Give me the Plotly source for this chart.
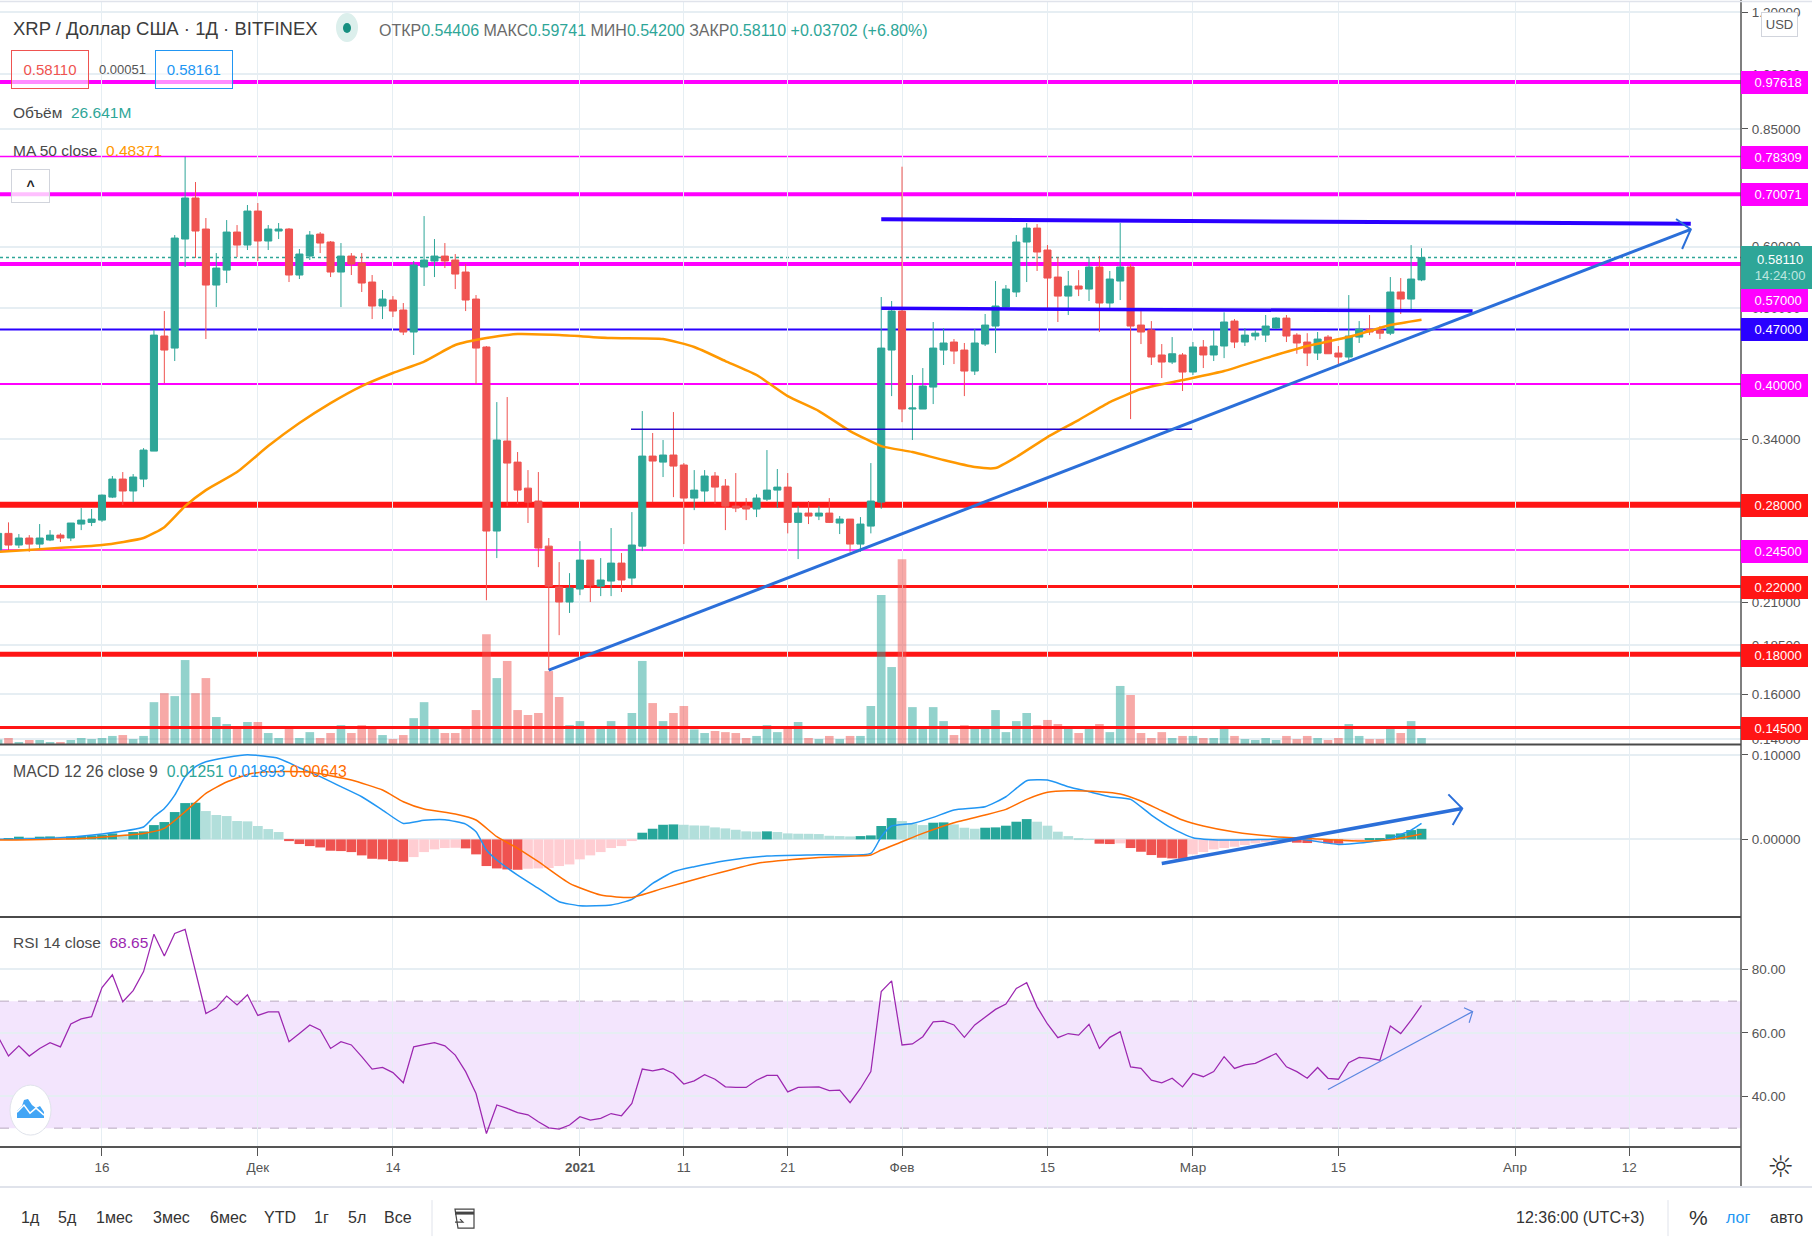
import pandas as pd
import plotly.graph_objects as go

W = 1812
H = 1244

# daily candles, 2020-11-06 .. 2021-03-23, ten days per row
opens = [
    .2449, .2573, .2486, .2538, .2493, .2523, .2560, .2538, .2645, .2658,
    .2676, .2864, .3021, .2916, .3021, .3281, .4609, .4448, .6138, .6929,
    .6322, .5358, .5600, .6266, .6030, .6667, .6102, .6285, .6322, .5519,
    .5837, .6229, .6084, .5568, .5837, .5718, .5406, .5036, .5126, .4977,
    .4664, .5651, .5752, .5837, .5769, .5568, .5141, .4462, .2591, .3380,
    .3176, .2941, .2831, .2478, .2196, .2101, .2183, .2378, .2202, .2235,
    .2357, .2255, .2478, .3233, .3176, .3243, .3149, .2856, .2916, .3048,
    .2959, .2789, .2789, .2765, .2847, .2924, .2950, .2658, .2732, .2708,
    .2732, .2653, .2684, .2493, .2629, .2822, .4422, .4962, .3715, .3715,
    .3964, .4422, .4528, .4422, .4156, .4501, .4747, .5021, .5249, .6084,
    .6340, .5942, .5486, .5186, .5343, .5295, .5651, .5081, .5422, .5651,
    .4761, .4691, .4358, .4268, .4358, .4144, .4462, .4358, .4475, .4817,
    .4528, .4609, .4622, .4719, .4860, .4622, .4528, .4383, .4595, .4383,
    .4332, .4595, .4705, .4691, .4648, .5249, .5141, .54406,
]
highs = [
    .2580, .2658, .2568, .2560, .2645, .2598, .2574, .2653, .2773, .2765,
    .2886, .3048, .3084, .3066, .3310, .4691, .4962, .6211, .7828, .7264,
    .6531, .5889, .6492, .6397, .6787, .6827, .6397, .6435, .6340, .5960,
    .6285, .6266, .6102, .6066, .5889, .5889, .5519, .5280, .5186, .5081,
    .5752, .6569, .6138, .6066, .5872, .5701, .5202, .4475, .3792, .3849,
    .3272, .3102, .3084, .2538, .2364, .2288, .2515, .2378, .2392, .2614,
    .2428, .2740, .3693, .3461, .3390, .3682, .3167, .3102, .3102, .3084,
    .3021, .3075, .2856, .2888, .3291, .3112, .3075, .2789, .2831, .2789,
    .2856, .2708, .2684, .2700, .3167, .5172, .5111, .7600, .4108, .4193,
    .4804, .4719, .4568, .4515, .4705, .4919, .5422, .5358, .6211, .6435,
    .6416, .6030, .5820, .5585, .5600, .5820, .5837, .5585, .6435, .5701,
    .4962, .4817, .4501, .4595, .4383, .4528, .4555, .4691, .4944, .4846,
    .4719, .4691, .4904, .4875, .4904, .4648, .4648, .4664, .4622, .4475,
    .5202, .4817, .4904, .4747, .5486, .5470, .6030, .59741,
]
lows = [
    .2449, .2437, .2464, .2437, .2464, .2515, .2508, .2515, .2598, .2629,
    .2662, .2856, .2798, .2822, .2950, .3281, .4011, .4281, .5651, .5803,
    .4568, .5021, .5390, .5820, .5942, .5752, .5942, .6138, .5406, .5454,
    .5769, .5889, .5486, .5021, .5519, .5249, .4846, .4846, .4875, .4622,
    .4358, .5343, .5486, .5634, .5295, .4962, .3999, .2112, .2392, .2789,
    .2806, .2653, .2329, .1718, .1905, .2034, .2144, .2101, .2138, .2138,
    .2164, .2209, .2442, .2822, .3039, .2864, .2493, .2756, .2822, .2806,
    .2598, .2740, .2676, .2700, .2831, .2773, .2573, .2385, .2645, .2676,
    .2653, .2568, .2437, .2437, .2573, .2767, .3860, .3574, .3390, .3715,
    .3770, .4231, .4243, .3860, .4108, .4475, .4383, .5007, .5172, .5406,
    .5585, .5007, .4804, .4904, .5186, .5111, .4664, .5007, .5126, .3606,
    .4501, .4231, .4071, .4243, .3918, .4108, .4193, .4281, .4318, .4448,
    .4475, .4552, .4528, .4705, .4528, .4374, .4218, .4294, .4374, .4231,
    .4281, .4515, .4622, .4568, .4622, .4919, .4977, .54200,
]
closes = [
    .2573, .2486, .2538, .2493, .2538, .2560, .2538, .2653, .2676, .2684,
    .2881, .3021, .2916, .3039, .3291, .4622, .4422, .6156, .6929, .6285,
    .5358, .5634, .6266, .6030, .6667, .6102, .6322, .6322, .5519, .5872,
    .6211, .6066, .5568, .5837, .5701, .5390, .5036, .5141, .4962, .4664,
    .5685, .5769, .5837, .5752, .5535, .5126, .4448, .2591, .3390, .3167,
    .2924, .2822, .2464, .2202, .2101, .2189, .2378, .2209, .2242, .2357,
    .2242, .2486, .3233, .3186, .3243, .3139, .2856, .2924, .3048, .2950,
    .2789, .2773, .2765, .2856, .2924, .2950, .2658, .2732, .2708, .2732,
    .2658, .2684, .2493, .2645, .2831, .4448, .4962, .3715, .3726, .3976,
    .4448, .4515, .4409, .4156, .4515, .4761, .5036, .5295, .6084, .6340,
    .5907, .5470, .5186, .5343, .5295, .5651, .5081, .5454, .5651, .4747,
    .4664, .4332, .4268, .4374, .4144, .4462, .4358, .4475, .4804, .4528,
    .4622, .4648, .4747, .4860, .4609, .4515, .4383, .4568, .4374, .4332,
    .4609, .4705, .4664, .4648, .5249, .5141, .5454, .58110,
]
# volume in millions
volumes = [
    20, 27, 9, 18, 18, 9, 9, 18, 27, 22,
    27, 36, 40, 22, 36, 186, 226, 213, 373, 226,
    293, 120, 89, 80, 98, 98, 49, 27, 70, 27,
    53, 27, 49, 84, 49, 84, 70, 40, 22, 40,
    115, 186, 70, 49, 49, 70, 151, 488, 293, 369,
    151, 129, 138, 324, 209, 84, 102, 70, 70, 102,
    70, 138, 369, 182, 102, 138, 169, 65, 49, 58,
    53, 49, 27, 36, 84, 53, 70, 98, 27, 22,
    36, 22, 36, 36, 169, 662, 342, 821, 164, 70,
    164, 102, 40, 84, 70, 70, 151, 53, 102, 138,
    84, 107, 89, 67, 49, 70, 89, 53, 258, 218,
    49, 27, 53, 27, 36, 36, 27, 27, 67, 36,
    22, 18, 27, 18, 36, 22, 36, 27, 18, 27,
    89, 36, 22, 22, 67, 49, 102, 26.641,
]
macd_hist = [
    .0000, .0008, .0032, .0024, .0032, .0035, .0032, .0035, .0039, .0047,
    .0055, .0071, .0055, .0087, .0095, .0169, .0205, .0323, .0429, .0433,
    .0335, .0288, .0276, .0217, .0213, .0158, .0122, .0087, -.0020, -.0055,
    -.0079, -.0095, -.0134, -.0138, -.0150, -.0189, -.0229, -.0236, -.0256, -.0264,
    -.0209, -.0150, -.0118, -.0102, -.0099, -.0106, -.0177, -.0315, -.0343, -.0355,
    -.0359, -.0347, -.0343, -.0339, -.0315, -.0296, -.0236, -.0189, -.0150, -.0102,
    -.0079, -.0016, .0079, .0126, .0173, .0177, .0173, .0165, .0162, .0142,
    .0130, .0114, .0095, .0091, .0095, .0087, .0071, .0067, .0066, .0063,
    .0043, .0039, .0035, .0039, .0047, .0158, .0252, .0217, .0189, .0169,
    .0197, .0201, .0177, .0138, .0126, .0138, .0142, .0162, .0209, .0240,
    .0209, .0162, .0091, .0039, .0008, .0004, -.0051, -.0055, -.0047, -.0102,
    -.0146, -.0185, -.0217, -.0225, -.0229, -.0177, -.0150, -.0118, -.0102, -.0087,
    -.0067, -.0047, -.0032, -.0016, -.0024, -.0039, -.0043, -.0032, -.0047, -.0051,
    -.0032, -.0016, .0008, .0012, .0059, .0071, .0110, .01251,
]
rsi_values = [
    58.8, 52.7, 55.9, 52.7, 55.1, 56.9, 55.6, 62.8, 64.4, 65.1,
    74.3, 78.3, 69.8, 73.3, 79.3, 91.1, 84.2, 91.3, 92.6, 79.8,
    66.1, 67.9, 71.6, 68.8, 72.0, 65.5, 66.6, 66.6, 57.2, 59.8,
    62.5, 60.9, 55.1, 57.2, 56.2, 52.5, 48.6, 49.1, 47.5, 44.3,
    55.6, 56.3, 56.9, 55.9, 53.0, 47.8, 40.9, 28.3, 37.3, 36.2,
    34.9, 34.2, 32.0, 30.1, 29.7, 31.0, 33.6, 32.5, 33.1, 34.6,
    33.9, 37.8, 48.6, 48.0, 48.7, 47.2, 43.9, 44.9, 46.8, 45.4,
    43.0, 42.8, 42.8, 45.1, 46.6, 46.6, 41.4, 42.8, 42.8, 43.0,
    41.8, 42.0, 38.0, 42.5, 47.8, 73.0, 76.4, 56.2, 56.5, 58.8,
    63.5, 63.7, 62.5, 58.6, 62.5, 64.9, 67.4, 69.1, 74.0, 75.8,
    68.2, 62.8, 58.5, 59.8, 59.3, 62.7, 55.1, 58.6, 60.4, 49.3,
    48.8, 45.1, 44.3, 45.7, 43.0, 47.2, 46.2, 47.8, 52.5, 48.8,
    49.9, 50.4, 52.0, 53.5, 49.3, 47.8, 45.7, 49.1, 45.7, 45.4,
    50.6, 52.3, 52.0, 51.4, 62.2, 59.8, 64.0, 68.65,
]

# slower lines, read every few days
ma_days = ["2020-11-06", "2020-11-10", "2020-11-16", "2020-11-20", "2020-11-22", "2020-11-24", "2020-11-26",
           "2020-11-29", "2020-12-02", "2020-12-05", "2020-12-08", "2020-12-11", "2020-12-14", "2020-12-17",
           "2020-12-20", "2020-12-23", "2020-12-26", "2020-12-30", "2021-01-04", "2021-01-09", "2021-01-12",
           "2021-01-15", "2021-01-18", "2021-01-21", "2021-01-24", "2021-01-27", "2021-01-30", "2021-02-02",
           "2021-02-05", "2021-02-08", "2021-02-10", "2021-02-12", "2021-02-15", "2021-02-18", "2021-02-21",
           "2021-02-24", "2021-02-28", "2021-03-04", "2021-03-08", "2021-03-12", "2021-03-16", "2021-03-20",
           "2021-03-23"]
ma_values = [.2437, .2456, .2486, .2538, .2621, .2789, .2924,
             .3084, .3330, .3564, .3781, .3976, .4132, .4274,
             .4488, .4581, .4636, .4622, .4581, .4568, .4462,
             .4281, .4108, .3860, .3693, .3481, .3330, .3272,
             .3195, .3130, .3121, .3224, .3420, .3596, .3792,
             .3941, .4047, .4156, .4318, .4475, .4595, .4761,
             .48371]

macd_days = ["2020-11-06", "2020-11-12", "2020-11-16", "2020-11-20", "2020-11-21", "2020-11-22", "2020-11-23",
             "2020-11-24", "2020-11-25", "2020-11-26", "2020-11-28", "2020-11-30", "2020-12-03", "2020-12-05",
             "2020-12-07", "2020-12-09", "2020-12-11", "2020-12-13", "2020-12-15", "2020-12-17", "2020-12-19",
             "2020-12-21", "2020-12-22", "2020-12-23", "2020-12-24", "2020-12-26", "2020-12-28", "2020-12-30",
             "2021-01-01", "2021-01-04", "2021-01-06", "2021-01-08", "2021-01-10", "2021-01-12", "2021-01-15",
             "2021-01-19", "2021-01-24", "2021-01-29", "2021-01-30", "2021-01-31", "2021-02-02", "2021-02-04",
             "2021-02-06", "2021-02-09", "2021-02-11", "2021-02-13", "2021-02-15", "2021-02-17", "2021-02-19",
             "2021-02-21", "2021-02-23", "2021-02-25", "2021-02-27", "2021-03-01", "2021-03-04", "2021-03-08",
             "2021-03-11", "2021-03-15", "2021-03-18", "2021-03-20", "2021-03-22", "2021-03-23"]
macd_values = [0, .0020, .0063, .0146, .0268, .0366, .0524,
               .0741, .0859, .0918, .0969, .1001, .0957, .0847,
               .0741, .0623, .0504, .0347, .0189, .0225, .0232,
               .0181, .0091, -.0126, -.0244, -.0422, -.0579, -.0737,
               -.0784, -.0776, -.0709, -.0520, -.0382, -.0323, -.0252,
               -.0197, -.0181, -.0165, .0032, .0158, .0189, .0260,
               .0347, .0386, .0504, .0693, .0701, .0623, .0563,
               .0504, .0473, .0288, .0130, .0020, -.0008, 0,
               .0008, -.0059, -.0032, .0012, .0110, .01893]

signal_days = ["2020-11-06", "2020-11-14", "2020-11-20", "2020-11-22", "2020-11-24", "2020-11-26", "2020-11-28",
               "2020-11-30", "2020-12-02", "2020-12-06", "2020-12-10", "2020-12-13", "2020-12-15", "2020-12-17",
               "2020-12-20", "2020-12-22", "2020-12-24", "2020-12-26", "2020-12-28", "2020-12-31", "2021-01-03",
               "2021-01-06", "2021-01-09", "2021-01-13", "2021-01-18", "2021-01-24", "2021-01-29", "2021-01-30",
               "2021-02-01", "2021-02-03", "2021-02-06", "2021-02-09", "2021-02-11", "2021-02-13", "2021-02-15",
               "2021-02-17", "2021-02-20", "2021-02-22", "2021-02-24", "2021-02-26", "2021-02-28", "2021-03-02",
               "2021-03-05", "2021-03-09", "2021-03-13", "2021-03-17", "2021-03-20", "2021-03-23"]
signal_values = [-.0008, .0012, .0071, .0130, .0327, .0544, .0678,
                 .0768, .0800, .0796, .0701, .0583, .0445, .0359,
                 .0299, .0229, .0032, -.0106, -.0264, -.0520, -.0658,
                 -.0686, -.0579, -.0441, -.0284, -.0213, -.0185, -.0126,
                 -.0028, .0071, .0197, .0288, .0355, .0473, .0556,
                 .0575, .0563, .0536, .0453, .0339, .0229, .0158,
                 .0087, .0032, .0004, -.0020, -.0004, .00643]

# horizontal levels on the price pane and their tags
level_prices = [.97618, .78309, .70071, .57, .47, .40, .28, .245, .22, .18, .145]
level_labels = ["0.97618", "0.78309", "0.70071", "0.57000", "0.47000", "0.40000",
                "0.28000", "0.24500", "0.22000", "0.18000", "0.14500"]
level_colors = ["#FF00FF", "#FF00FF", "#FF00FF", "#FF00FF", "#2A00FF", "#FF00FF",
                "#FF1515", "#FF00FF", "#FF1515", "#FF1515", "#FF1515"]
level_widths = [4, 1.5, 4, 4, 2, 2, 6, 1.3, 3, 5, 3]
level_tag_y = [82, 157, 194, 300.5, 329.7, 385, 505.7, 551, 587, 655, 728]

price_ticks = [1.2, 1.0, .85, .6, .5, .34, .21, .185, .16, .14]
price_tick_text = ["1.20000", "1.00000", "0.85000", "0.60000", "0.50000", "0.34000",
                   "0.21000", "0.18500", "0.16000", "0.14000"]
date_ticks = ["2020-11-16", "2020-12-01", "2020-12-14", "2021-01-01", "2021-01-11", "2021-01-21",
              "2021-02-01", "2021-02-15", "2021-03-01", "2021-03-15", "2021-04-01", "2021-04-12"]
date_tick_text = ["16", "Дек", "14", "<b>2021</b>", "11", "21", "Фев", "15", "Мар", "15", "Апр", "12"]

GREEN = "#2EA698"
RED = "#EF5350"
BLUE = "#2196F3"
ORANGE = "#FF9800"
GREY = "#555555"

dates = pd.date_range("2020-11-06", periods=len(closes), freq="D")
day_ms = 86400000


def px(x):
    return x / W


def py(y):
    # small stretch, picture came out a touch short against the reference
    return 1 - y * 1.0025 / H


def hist_color(i):
    v = macd_hist[i]
    prev = macd_hist[i - 1] if i else 0
    if v >= 0:
        return "#26A69A" if v >= prev else "#B2DFDB"
    return "#EF5350" if v <= prev else "#FFCDD2"


fig = go.Figure()

# volume sits on the base axis so the candles draw over it
fig.add_trace(go.Bar(
    x=dates, y=volumes, yaxis="y", width=0.83 * day_ms,
    marker=dict(line_width=0, color=["rgba(38,166,154,0.5)" if c >= o else "rgba(239,83,80,0.5)"
                                     for o, c in zip(opens, closes)])))

fig.add_trace(go.Candlestick(
    x=dates, open=opens, high=highs, low=lows, close=closes, yaxis="y2",
    whiskerwidth=0,
    increasing=dict(line=dict(color=GREEN, width=1), fillcolor=GREEN),
    decreasing=dict(line=dict(color=RED, width=1), fillcolor=RED)))

fig.add_trace(go.Scatter(x=ma_days, y=ma_values, yaxis="y2", mode="lines",
                         line=dict(color=ORANGE, width=2.5, shape="spline", smoothing=0.5)))


def drawn_line(xs, ys, axis, color, width):
    fig.add_trace(go.Scatter(x=xs, y=ys, yaxis=axis, mode="lines", line=dict(color=color, width=width)))


# hand drawn lines on the chart
drawn_line(["2021-01-30", "2021-04-17 22:00"], [.6506, .6422], "y2", "#2A00FF", 4)
drawn_line(["2021-04-16 12:00", "2021-04-17 22:00", "2021-04-17 02:00"], [.6512, .6317, .5960], "y2", "#2B6FD9", 2)
drawn_line(["2021-01-30", "2021-03-27 22:00"], [.5002, .4962], "y2", "#2A00FF", 3.5)
drawn_line(["2021-01-05 22:00", "2021-02-28 22:00"], [.3499, .3499], "y2", "#2200CC", 1.5)
drawn_line(["2020-12-29", "2021-04-17 22:00"], [.1718, .6317], "y2", "#2B6FD9", 3)

fig.add_trace(go.Bar(x=dates, y=macd_hist, yaxis="y3", width=0.94 * day_ms,
                     marker=dict(line_width=0, color=[hist_color(i) for i in range(len(macd_hist))])))
fig.add_trace(go.Scatter(x=macd_days, y=macd_values, yaxis="y3", mode="lines",
                         line=dict(color=BLUE, width=1.5, shape="spline", smoothing=0.5)))
fig.add_trace(go.Scatter(x=signal_days, y=signal_values, yaxis="y3", mode="lines",
                         line=dict(color="#FF6D00", width=1.5, shape="spline", smoothing=0.5)))
drawn_line(["2021-02-26", "2021-03-26 22:00"], [-.0284, .0366], "y3", "#2B6FD9", 3.5)
drawn_line(["2021-03-25 14:00", "2021-03-26 22:00", "2021-03-26"], [.0532, .0366, .0169], "y3", "#2B6FD9", 2)

fig.add_trace(go.Scatter(x=dates, y=rsi_values, yaxis="y4", mode="lines", line=dict(color="#9C27B0", width=1.25)))
drawn_line(["2021-03-14", "2021-03-27 22:00"], [42.2, 66.7], "y4", "#5B86E0", 1.2)
drawn_line(["2021-03-27 02:00", "2021-03-27 22:00", "2021-03-27 14:00"], [67.9, 66.7, 63.2], "y4", "#5B86E0", 1.2)

shapes = []
annotations = []


def hline(y, x0, x1, color, width):
    shapes.append(dict(type="line", xref="paper", yref="paper", x0=px(x0), x1=px(x1), y0=py(y), y1=py(y),
                       line=dict(color=color, width=width)))


def vline(x, y0, y1, color, width):
    shapes.append(dict(type="line", xref="paper", yref="paper", x0=px(x), x1=px(x), y0=py(y0), y1=py(y1),
                       line=dict(color=color, width=width)))


def text(s, x, y, size=14, color="#4A4A4A", anchor="left", **kw):
    annotations.append(dict(text=s, xref="paper", yref="paper", x=px(x), y=py(y), xanchor=anchor, yanchor="middle",
                            showarrow=False, font=dict(family="Liberation Sans", size=size, color=color), **kw))


def box(s, x0, x1, y0, y1, size=13, color="white", bg="white", border=None):
    annotations.append(dict(text=s, xref="paper", yref="paper", x=px((x0 + x1) / 2), y=py((y0 + y1) / 2),
                            xanchor="center", yanchor="middle", showarrow=False, width=x1 - x0, height=y1 - y0,
                            align="center", valign="middle", bgcolor=bg, borderpad=0,
                            bordercolor=border or "rgba(0,0,0,0)", borderwidth=1 if border else 0,
                            font=dict(family="Liberation Sans", size=size, color=color)))


def poly(points, fill, line="rgba(0,0,0,0)", width=0, closed=True):
    d = "M" + " L".join(f"{px(x):.5f} {py(y):.5f}" for x, y in points) + (" Z" if closed else "")
    shapes.append(dict(type="path", xref="paper", yref="paper", path=d, fillcolor=fill,
                       line=dict(color=line, width=width)))


def oval(x0, x1, y0, y1, fill, line="rgba(0,0,0,0)"):
    shapes.append(dict(type="circle", xref="paper", yref="paper", x0=px(x0), x1=px(x1), y0=py(y0), y1=py(y1),
                       fillcolor=fill, line=dict(color=line, width=1)))


# levels
for price, color, width in zip(level_prices, level_colors, level_widths):
    shapes.append(dict(type="line", xref="paper", yref="y2", x0=0, x1=px(1741), y0=price, y1=price,
                       layer="above" if price == .145 else "below", line=dict(color=color, width=width)))
for label, color, y in zip(level_labels, level_colors, level_tag_y):
    box("&nbsp;&nbsp;" + label, 1741, 1808, y - 11.5, y + 11.5, color="white", bg=color)
shapes.append(dict(type="line", xref="paper", yref="y2", x0=0, x1=px(1741), y0=closes[-1], y1=closes[-1],
                   layer="below", line=dict(color=GREEN, width=1.5, dash="dot")))
box("&nbsp;&nbsp;0.58110<br>&nbsp;&nbsp;<span style='color:#BFE6E0'>14:24:00</span>", 1741, 1812, 246, 289,
    color="white", bg=GREEN)

# rsi band
shapes.append(dict(type="rect", xref="paper", yref="y4", x0=0, x1=px(1741), y0=30, y1=70, layer="below",
                   fillcolor="rgba(155,38,238,0.12)", line_width=0))
for level in (30, 70):
    shapes.append(dict(type="line", xref="paper", yref="y4", x0=0, x1=px(1741), y0=level, y1=level, layer="below",
                       line=dict(color="#B8A8BF", width=1, dash="dash")))

# pane frames
vline(1741, 0, 1187, "#555555", 1.5)
hline(744.5, 0, 1741, "#4A4A4A", 2)
hline(917, 0, 1741, "#4A4A4A", 2)
hline(1.5, 0, 1812, "#E0E3EB", 1.5)
hline(1187, 0, 1812, "#E0E3EB", 2)
vline(432, 1200, 1236, "#E0E3EB", 1)
vline(1668, 1200, 1236, "#E0E3EB", 1)

# header
text("XRP / Доллар США · 1Д · BITFINEX", 11, 28, size=18.5, color="#3C3C3C")
oval(336, 358, 13, 42, "#DCEFEC")
oval(343, 351, 23, 33, "#168F80")
grey = "#6A6A6A"
teal = GREEN
text(f"<span style='color:{grey}'>ОТКР</span>0.54406 <span style='color:{grey}'>МАКС</span>0.59741 "
     f"<span style='color:{grey}'>МИН</span>0.54200 <span style='color:{grey}'>ЗАКР</span>0.58110 +0.03702 (+6.80%)",
     377, 30, size=16, color=teal)
box("0.58110", 11.5, 87.5, 51, 87.5, size=15, color="#EF5350", bg="rgba(255,255,255,0.55)", border="#EF5350")
text("0.00051", 97, 69, size=13, color="#555555")
box("0.58161", 156.5, 232, 51, 87.5, size=15, color=BLUE, bg="rgba(255,255,255,0.55)", border=BLUE)
text(f"Объём  <span style='color:{teal}'>26.641M</span>", 11, 112, size=15.5)
text(f"MA 50 close  <span style='color:{ORANGE}'>0.48371</span>", 11, 150, size=15.5)
box("<b>^</b>", 12, 49, 170, 202, size=14, color="#222222", bg="rgba(255,255,255,0.75)", border="#D1D4DC")
box("USD", 1762, 1797, 13, 36, size=13, color="#555555", bg="white", border="#D1D4DC")
text(f"MACD 12 26 close 9  <span style='color:{teal}'>0.01251</span> <span style='color:{BLUE}'>0.01893</span> "
     f"<span style='color:#FF6D00'>0.00643</span>", 11, 771, size=15.8)
text("RSI 14 close  <span style='color:#9C27B0'>68.65</span>", 11, 942, size=15.5)

# cloud button on the rsi pane
oval(10, 51, 1085, 1135, "white", "#E0E3EB")
poly([(17, 1118), (17, 1111), (22, 1106), (24, 1100), (28, 1099), (32, 1105), (36, 1108), (40, 1106),
      (44, 1112), (44, 1118)], "#42A5F5")
poly([(17, 1112), (24, 1105), (30, 1113), (36, 1108), (44, 1115)], "rgba(0,0,0,0)", "white", 1.5, closed=False)

# bottom toolbar
for label, x in zip(["1д", "5д", "1мес", "3мес", "6мес", "YTD", "1г", "5л", "Все"],
                    [30.6, 67, 114, 171, 228, 280, 321, 357, 398]):
    text(label, x, 1217, size=16, color="#333333", anchor="center")
poly([(455, 1209), (474, 1209), (474, 1228), (458, 1228)], "rgba(0,0,0,0)", "#444444", 1.2)
hline(1213, 455, 474, "#444444", 3)
poly([(455, 1222), (463, 1222), (460, 1219)], "rgba(0,0,0,0)", "#444444", 1.2, closed=False)
text("12:36:00 (UTC+3)", 1580, 1217, size=16, color="#333333", anchor="center")
text("%", 1698, 1217, size=21, color="#333333", anchor="center")
text("лог", 1738, 1217, size=16, color=BLUE, anchor="center")
text("авто", 1786, 1217, size=16, color="#333333", anchor="center")
annotations.append(dict(text="☼", xref="paper", yref="paper", x=px(1780), y=py(1166), xanchor="center",
                        yanchor="middle", showarrow=False, font=dict(family="DejaVu Sans", size=30, color="#333333")))

axis_font = dict(family="Liberation Sans", size=13.5, color=GREY)
grid = "#E6EEF3"

fig.update_layout(
    width=W, height=H, autosize=False,
    margin=dict(l=0, r=0, t=0, b=0),
    paper_bgcolor="white", plot_bgcolor="white",
    showlegend=False, hovermode=False, barmode="overlay",
    boxgap=0.32, boxgroupgap=0,
    shapes=shapes, annotations=annotations,
    xaxis=dict(domain=[0, px(1741)], type="date", range=["2020-11-06 04:24", "2021-04-22 18:00"],
               anchor="y4", tickmode="array", tickvals=date_ticks, ticktext=date_tick_text,
               ticks="outside", ticklen=8, tickcolor=GREY, tickfont=axis_font,
               showgrid=True, gridcolor=grid, gridwidth=1, zeroline=False,
               showline=True, linecolor=GREY, linewidth=1.5,
               rangeslider=dict(visible=False)),
    yaxis=dict(domain=[py(744), py(2)], range=[0, 3295], visible=False, showgrid=False, fixedrange=True),
    yaxis2=dict(domain=[py(744), py(2)], overlaying="y", side="right", type="log", range=[-0.8598, 0.0921],
                anchor="x", tickmode="array", tickvals=price_ticks, ticktext=price_tick_text,
                ticks="outside", ticklen=6, tickcolor=GREY, tickfont=axis_font, ticklabelstandoff=1,
                showgrid=True, gridcolor=grid, gridwidth=2, zeroline=False),
    yaxis3=dict(domain=[py(917), py(746)], side="right", range=[-.0918, .1103], anchor="x",
                tickmode="array", tickvals=[.1, 0], ticktext=["0.10000", "0.00000"],
                ticks="outside", ticklen=6, tickcolor=GREY, tickfont=axis_font, ticklabelstandoff=1,
                showgrid=True, gridcolor=grid, gridwidth=1.5, zeroline=False),
    yaxis4=dict(domain=[py(1145.7), py(918)], side="right", range=[24.44, 96.16], anchor="x",
                tickmode="array", tickvals=[80, 60, 40], ticktext=["80.00", "60.00", "40.00"],
                ticks="outside", ticklen=6, tickcolor=GREY, tickfont=axis_font, ticklabelstandoff=1,
                showgrid=True, gridcolor=grid, gridwidth=1.5, zeroline=False),
)

fig.write_html("out.html", config={"displayModeBar": False}, post_script="document.body.style.margin='0';")
